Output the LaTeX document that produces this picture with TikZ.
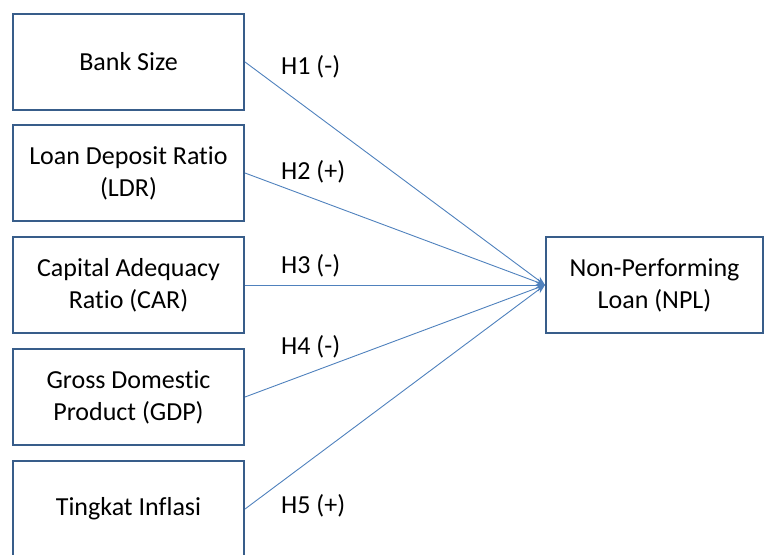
\documentclass[tikz,border=0pt]{standalone}
\usepackage{fontspec}
\setmainfont{Carlito}[Ligatures=NoCommon]
\usetikzlibrary{arrows.meta}

\definecolor{boxblue}{HTML}{385D8A}
\definecolor{lineblue}{HTML}{4F81BD}

\begin{document}
\begin{tikzpicture}[x=1pt,y=-1pt,
    factor/.style={draw=boxblue, line width=2pt, minimum width=231pt,
      minimum height=96pt, align=center, font=\fontsize{26}{32}\selectfont},
    hyp/.style={anchor=west, inner sep=0pt, font=\fontsize{26}{32}\selectfont},
    link/.style={draw=lineblue, line width=0.9pt, -{Stealth[length=9pt,width=7pt]}}]

    \clip (0,0) rectangle (765,554);

    % independent variables
    \node[factor] (size) at (128.5,62)  {Bank Size};
    \node[factor] (ldr)  at (128.5,173) {Loan Deposit Ratio\\(LDR)};
    \node[factor] (car)  at (128.5,285) {Capital Adequacy\\Ratio (CAR)};
    \node[factor] (gdp)  at (128.5,397) {Gross Domestic\\Product (GDP)};
    \node[factor] (inf)  at (128.5,509) {Tingkat Inflasi};

    % dependent variable
    \node[factor, minimum width=217pt] (npl) at (654.5,285) {Non-Performing\\Loan (NPL)};

    \foreach \src/\lab/\ly in
    {size/H1 (-)/67, ldr/H2 (+)/172, car/H3 (-)/266, gdp/H4 (-)/347, inf/H5 (+)/506}
    {
      \draw[link] (\src.east) -- (npl.west);
      \node[hyp] (h-\src) at (281,\ly) {\lab};
    }
\end{tikzpicture}
\end{document}
